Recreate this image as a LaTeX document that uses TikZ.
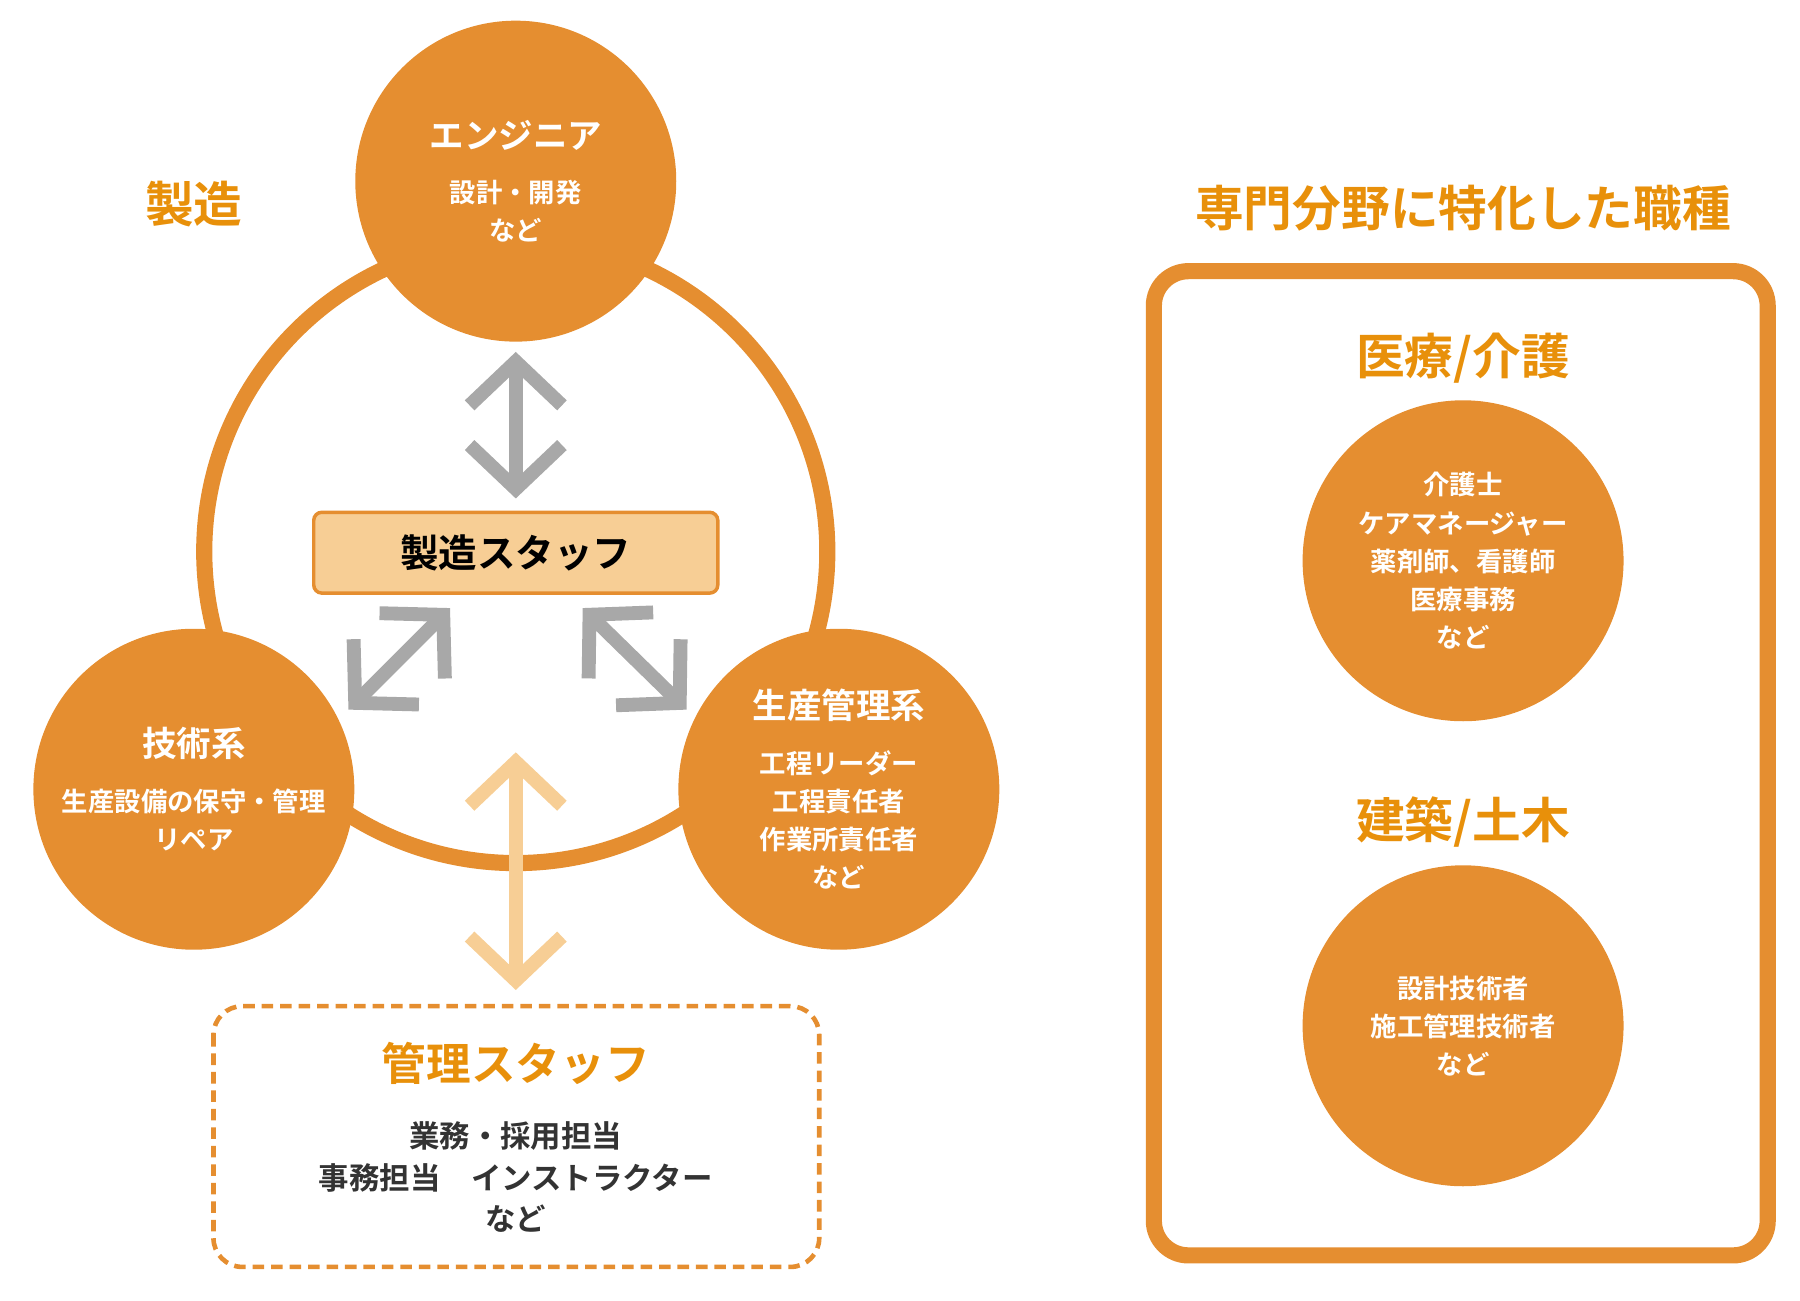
\documentclass[tikz,border=0pt]{standalone}
\usepackage{fontspec}
\setmainfont{Noto Sans CJK JP}[BoldFont={Noto Sans CJK JP Bold}]
\usetikzlibrary{arrows.meta}
\definecolor{orng}{HTML}{E58E30}
\definecolor{ttl}{HTML}{E8900A}
\definecolor{pale}{HTML}{F7CE95}
\definecolor{gry}{HTML}{A8A8A8}
\definecolor{txt}{HTML}{333333}

\begin{document}
\begin{tikzpicture}[x=0.01cm,y=-0.01cm,
	role/.style={circle, fill=orng, minimum size=2.78cm, inner sep=0pt, text=white, align=center, font=\bfseries\fontsize{6.5}{9.4}\selectfont},
	ttlfont/.style={text=ttl, font=\bfseries\fontsize{12}{14}\selectfont},
	garrow/.style={gry, line width=0.12cm, {Straight Barb[length=0.38cm,width=0.8cm]}-{Straight Barb[length=0.38cm,width=0.8cm]}},
	parrow/.style={pale, line width=0.12cm, {Straight Barb[length=0.38cm,width=0.8cm]}-{Straight Barb[length=0.38cm,width=0.8cm]}}]
	\useasboundingbox (0,0) rectangle (1560,1127);

	% ring
	\draw[orng, line width=0.14cm] (447,478) circle (270);

	% roles
	\node[role] (eng) at (447,157) {{\fontsize{8.5}{12}\selectfont エンジニア}\\[4pt]設計・開発\\など};
	\node[role] (tech) at (168,684) {{\fontsize{8.5}{12}\selectfont 技術系}\\[4pt]生産設備の保守・管理\\リペア};
	\node[role] (prod) at (727,684) {{\fontsize{8.5}{12}\selectfont 生産管理系}\\[4pt]工程リーダー\\工程責任者\\作業所責任者\\など};

	% center
	\node[draw=orng, line width=0.03cm, fill=pale, rounded corners=2pt, minimum width=3.5cm, minimum height=0.7cm, font=\bfseries\fontsize{9.5}{12}\selectfont] (staff) at (447,479) {製造スタッフ};

	\coordinate (a1) at (447,305); \coordinate (a2) at (447,432);
	\coordinate (b1) at (390,527); \coordinate (b2) at (302,615);
	\coordinate (c1) at (505,527); \coordinate (c2) at (595,615);
	\coordinate (d1) at (447,652); \coordinate (d2) at (447,858);
	\draw[garrow] (a1) -- (a2);
	\draw[garrow] (b1) -- (b2);
	\draw[garrow] (c1) -- (c2);
	\draw[parrow] (d1) -- (d2);

	% admin
	\draw[orng, line width=0.04cm, dashed, dash pattern=on 0.1cm off 0.06cm, rounded corners=0.25cm] (185,872) rectangle (710,1098);
	\node[text=ttl, font=\bfseries\fontsize{11}{13}\selectfont] (adm) at (447,922) {管理スタッフ};
	\node[text=txt, align=center, font=\bfseries\fontsize{7.5}{10.2}\selectfont, below=2pt] (admtxt) at (adm.south) {業務・採用担当\\事務担当　インストラクター\\など};

	\node[ttlfont] (mfg) at (168,177) {製造};
	\node[ttlfont] (spec) at (1268,180) {専門分野に特化した職種};

	% specialist box
	\draw[orng, line width=0.14cm, rounded corners=0.3cm] (1000,235) rectangle (1532,1088);
	\node[ttlfont] (med) at (1268,310) {医療/介護};
	\node[role] (medc) at (1268,486) {介護士\\ケアマネージャー\\薬剤師、看護師\\医療事務\\など};
	\node[ttlfont] (con) at (1268,712) {建築/土木};
	\node[role] (conc) at (1268,889) {設計技術者\\施工管理技術者\\など};
\end{tikzpicture}
\end{document}
